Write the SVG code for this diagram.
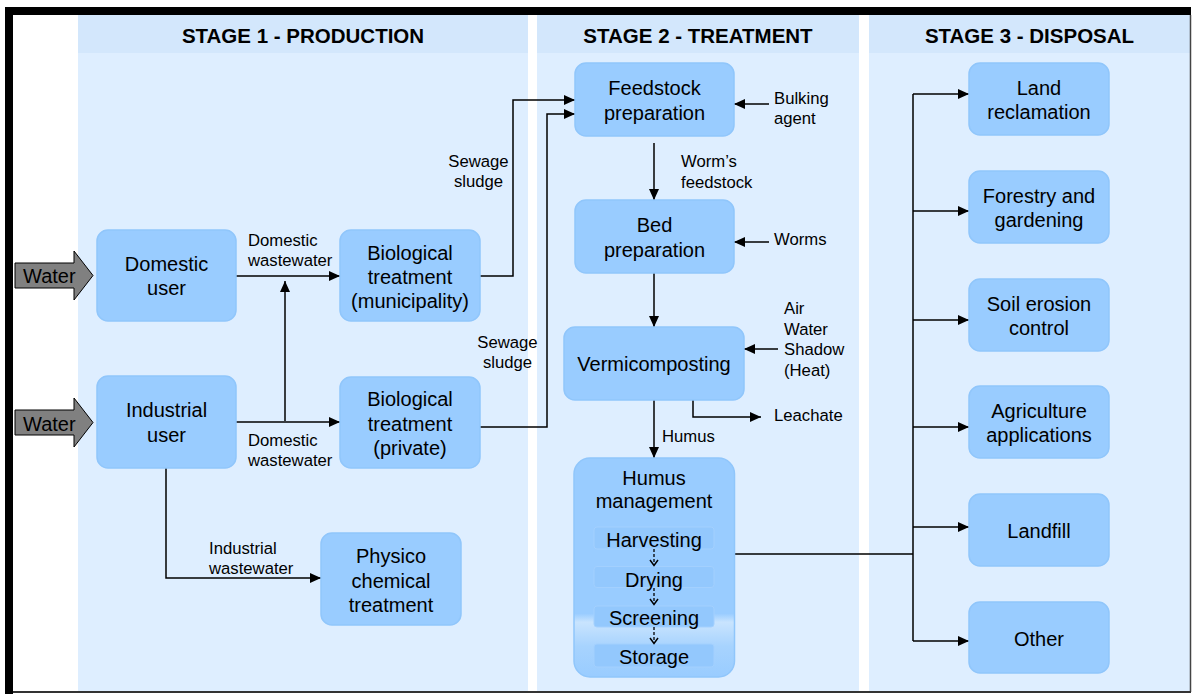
<svg xmlns="http://www.w3.org/2000/svg" width="1194" height="694" viewBox="0 0 1194 694">
<style>
.node{fill:#99CCFF;stroke:#90C6FB;stroke-width:1.5}
.t{font-family:"Liberation Sans",Arial,sans-serif;font-size:20px;fill:#000;text-anchor:middle}
.l{font-family:"Liberation Sans",Arial,sans-serif;font-size:16.7px;fill:#000}
.h{font-family:"Liberation Sans",Arial,sans-serif;font-size:20.5px;font-weight:bold;fill:#000;text-anchor:middle}
.c{fill:none;stroke:#000;stroke-width:1.5}
.sub{fill:#93C8FD;stroke:#A3D0FE;stroke-width:1}
</style>
<defs>
<marker id="ah" markerUnits="userSpaceOnUse" markerWidth="12" markerHeight="10" refX="11" refY="5" orient="auto"><path d="M0,0 L11,5 L0,10 z" fill="#000"/></marker>
<marker id="ch" markerUnits="userSpaceOnUse" markerWidth="10" markerHeight="8" refX="5" refY="6" orient="auto"><path d="M1,1 L5,6 L9,1" fill="none" stroke="#000" stroke-width="1.5" transform="rotate(-90 5 5)"/></marker>
<linearGradient id="hg" x1="0" y1="0" x2="0" y2="1">
<stop offset="0" stop-color="#99CCFF"/><stop offset="0.71" stop-color="#99CCFF"/><stop offset="0.75" stop-color="#C9E4FE"/><stop offset="0.86" stop-color="#A7D3FE"/><stop offset="1" stop-color="#99CCFF"/>
</linearGradient>
</defs>
<rect x="0" y="0" width="1194" height="694" fill="#fff"/>
<!-- stage panels -->
<g id="stage1"><rect x="78" y="15" width="450" height="676" fill="#DEEEFF"/><rect x="78" y="15" width="450" height="38" fill="#D3E7FC"/><text class="h" x="303" y="43">STAGE 1 - PRODUCTION</text></g>
<g id="stage2"><rect x="537" y="15" width="322" height="676" fill="#DEEEFF"/><rect x="537" y="15" width="322" height="38" fill="#D3E7FC"/><text class="h" x="698" y="43">STAGE 2 - TREATMENT</text></g>
<g id="stage3"><rect x="869" y="15" width="321" height="676" fill="#DEEEFF"/><rect x="869" y="15" width="321" height="38" fill="#D3E7FC"/><text class="h" x="1029.5" y="43">STAGE 3 - DISPOSAL</text></g>
<!-- frame -->
<g id="frame">
<rect x="5" y="7" width="1186" height="8" fill="#000"/>
<rect x="5" y="7" width="8" height="687" fill="#000"/>
<line x1="1190.5" y1="15" x2="1190.5" y2="692" stroke="#444" stroke-width="1.5"/>
<line x1="13" y1="692" x2="1191" y2="692" stroke="#333" stroke-width="2"/>
</g>
<!-- connectors -->
<g id="connectors">
<polygon points="15,263 74,263 74,251 93,275.5 74,300 74,288 15,288" fill="#808080" stroke="#000" stroke-width="1"/>
<text class="t" x="23" y="283" style="text-anchor:start">Water</text>
<polygon points="15,410 74,410 74,398 93,422.5 74,447 74,435 15,435" fill="#808080" stroke="#000" stroke-width="1"/>
<text class="t" x="23" y="430.5" style="text-anchor:start">Water</text>
<path class="c" d="M236,276 H340" marker-end="url(#ah)"/>
<path class="c" d="M236,422 H340" marker-end="url(#ah)"/>
<path class="c" d="M285,421 V281" marker-end="url(#ah)"/>
<path class="c" d="M480,276 H513 V100 H575" marker-end="url(#ah)"/>
<path class="c" d="M480,427 H547 V114 H575" marker-end="url(#ah)"/>
<path class="c" d="M166,468 V578 H321" marker-end="url(#ah)"/>
<path class="c" d="M654,143 V200" marker-end="url(#ah)"/>
<path class="c" d="M654,273 V327" marker-end="url(#ah)"/>
<path class="c" d="M654,400 V458" marker-end="url(#ah)"/>
<path class="c" d="M693,400 V417 H761" marker-end="url(#ah)"/>
<path class="c" d="M769,104 H734" marker-end="url(#ah)"/>
<path class="c" d="M769,242 H734" marker-end="url(#ah)"/>
<path class="c" d="M778,349 H744" marker-end="url(#ah)"/>
<path class="c" d="M734,554 H913 M913,94 V641"/>
<path class="c" d="M913,94 H969" marker-end="url(#ah)"/>
<path class="c" d="M913,211 H969" marker-end="url(#ah)"/>
<path class="c" d="M913,320 H969" marker-end="url(#ah)"/>
<path class="c" d="M913,427 H969" marker-end="url(#ah)"/>
<path class="c" d="M913,527 H969" marker-end="url(#ah)"/>
<path class="c" d="M913,641 H969" marker-end="url(#ah)"/>
<text class="l" x="248" y="245.5">Domestic</text><text class="l" x="248" y="265.5">wastewater</text>
<text class="l" x="248" y="446">Domestic</text><text class="l" x="248" y="466">wastewater</text>
<text class="l" x="478.5" y="167" text-anchor="middle">Sewage</text><text class="l" x="478.5" y="187" text-anchor="middle">sludge</text>
<text class="l" x="507.5" y="348" text-anchor="middle">Sewage</text><text class="l" x="507.5" y="368" text-anchor="middle">sludge</text>
<text class="l" x="209" y="554">Industrial</text><text class="l" x="209" y="573.5">wastewater</text>
<text class="l" x="681" y="166.5">Worm’s</text><text class="l" x="681" y="187.5">feedstock</text>
<text class="l" x="774" y="103.5">Bulking</text><text class="l" x="774" y="123.5">agent</text>
<text class="l" x="774" y="245">Worms</text>
<text class="l" x="784" y="314">Air</text><text class="l" x="784" y="334.5">Water</text><text class="l" x="784" y="355">Shadow</text><text class="l" x="784" y="375.5">(Heat)</text>
<text class="l" x="774" y="421">Leachate</text>
<text class="l" x="662" y="441.5">Humus</text>
</g>
<!-- nodes -->
<g id="domestic"><rect class="node" x="97" y="230" width="139" height="91" rx="11"/><text class="t" x="166.5" y="270.5">Domestic</text><text class="t" x="166.5" y="295">user</text></g>
<g id="industrial"><rect class="node" x="97" y="376" width="139" height="92" rx="11"/><text class="t" x="166.5" y="417">Industrial</text><text class="t" x="166.5" y="441.5">user</text></g>
<g id="bio-muni"><rect class="node" x="340" y="230" width="140" height="91" rx="11"/><text class="t" x="410" y="259.5">Biological</text><text class="t" x="410" y="283.5">treatment</text><text class="t" x="410" y="307.5">(municipality)</text></g>
<g id="bio-priv"><rect class="node" x="340" y="377" width="140" height="91" rx="11"/><text class="t" x="410" y="406">Biological</text><text class="t" x="410" y="430.5">treatment</text><text class="t" x="410" y="455">(private)</text></g>
<g id="physico"><rect class="node" x="321" y="533" width="140" height="92" rx="11"/><text class="t" x="391" y="563">Physico</text><text class="t" x="391" y="587.5">chemical</text><text class="t" x="391" y="612">treatment</text></g>
<g id="feedstock"><rect class="node" x="575" y="63" width="159" height="73" rx="11"/><text class="t" x="654.5" y="95">Feedstock</text><text class="t" x="654.5" y="119.5">preparation</text></g>
<g id="bed"><rect class="node" x="575" y="200" width="159" height="73" rx="11"/><text class="t" x="654.5" y="232">Bed</text><text class="t" x="654.5" y="256.5">preparation</text></g>
<g id="vermi"><rect class="node" x="564" y="327" width="180" height="73" rx="11"/><text class="t" x="654" y="371">Vermicomposting</text></g>
<g id="humus">
<rect x="574" y="458" width="160.5" height="219" rx="16" fill="url(#hg)" stroke="#90C6FB" stroke-width="1.5"/>
<text class="t" x="654" y="484.5">Humus</text><text class="t" x="654" y="507.5">management</text>
<rect class="sub" x="594" y="527" width="120" height="22" rx="3"/>
<rect class="sub" x="594" y="566.5" width="120" height="21" rx="3"/>
<rect class="sub" x="594" y="606" width="120" height="21" rx="3"/>
<rect class="sub" x="594" y="644" width="120" height="23" rx="3"/>
<text class="t" x="654" y="546.5">Harvesting</text>
<text class="t" x="654" y="586.5">Drying</text>
<text class="t" x="654" y="625">Screening</text>
<text class="t" x="654" y="663.5">Storage</text>
<path d="M654,549 V565 M654,588 V604 M654,627 V643" fill="none" stroke="#000" stroke-width="1.3" stroke-dasharray="3,2"/>
<path d="M650,560 L654,565.5 L658,560 M650,599 L654,604.5 L658,599 M650,638 L654,643.5 L658,638" fill="none" stroke="#000" stroke-width="1.5"/>
</g>
<g id="land"><rect class="node" x="969" y="63" width="140" height="72" rx="11"/><text class="t" x="1039" y="94.5">Land</text><text class="t" x="1039" y="119">reclamation</text></g>
<g id="forestry"><rect class="node" x="969" y="171" width="140" height="72" rx="11"/><text class="t" x="1039" y="202.5">Forestry and</text><text class="t" x="1039" y="227">gardening</text></g>
<g id="soil"><rect class="node" x="969" y="279" width="140" height="72" rx="11"/><text class="t" x="1039" y="310.5">Soil erosion</text><text class="t" x="1039" y="335">control</text></g>
<g id="agri"><rect class="node" x="969" y="386" width="140" height="72" rx="11"/><text class="t" x="1039" y="417.5">Agriculture</text><text class="t" x="1039" y="442">applications</text></g>
<g id="landfill"><rect class="node" x="969" y="494" width="140" height="72" rx="11"/><text class="t" x="1039" y="537.5">Landfill</text></g>
<g id="other"><rect class="node" x="969" y="602" width="140" height="71" rx="11"/><text class="t" x="1039" y="645.5">Other</text></g>
</svg>
